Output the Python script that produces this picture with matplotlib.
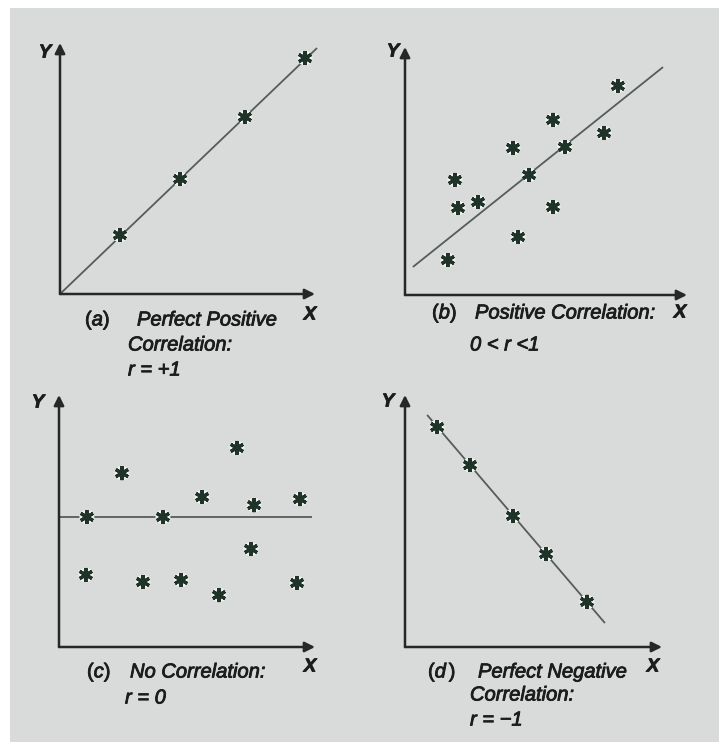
import matplotlib
matplotlib.use("Agg")
import matplotlib.pyplot as plt
import matplotlib.patheffects as pe
from matplotlib.patches import Rectangle

plt.rcParams['font.family'] = ['Liberation Sans', 'DejaVu Sans']
plt.rcParams['mathtext.fontset'] = 'custom'
plt.rcParams['mathtext.rm'] = 'Liberation Sans'
plt.rcParams['mathtext.it'] = 'Liberation Sans:italic'

# ---- data (panel units: axes run 0..10) ----
a_x = [2.35, 4.71, 7.25, 9.61]
a_y = [2.35, 4.58, 7.05, 9.40]
a_line_x = [0.0, 10.08]
a_line_y = [0.0, 9.80]

b_x = [1.52, 1.88, 1.77, 2.59, 4.01, 3.83, 4.40, 5.25, 5.25, 5.67, 7.06, 7.55]
b_y = [1.41, 3.51, 4.64, 3.75, 2.34, 5.93, 4.84, 3.55, 7.06, 5.97, 6.53, 8.43]
b_line_x = [0.28, 9.15]
b_line_y = [1.13, 9.19]

c_x = [1.09, 4.06, 2.46, 6.95, 5.59, 7.62, 9.41, 7.50, 1.05, 3.28, 4.77, 6.25, 9.30]
c_y = [5.16, 5.16, 6.90, 7.90, 5.95, 5.63, 5.87, 3.89, 2.86, 2.58, 2.66, 2.06, 2.54]
c_line_x = [0.0, 9.88]
c_line_y = [5.16, 5.16]

d_x = [1.25, 2.53, 4.20, 5.49, 7.08]
d_y = [8.73, 7.22, 5.20, 3.69, 1.79]
d_line_x = [0.86, 7.78]
d_line_y = [9.21, 0.95]

W, H = 719, 745
fig = plt.figure(figsize=(W / 100, H / 100), dpi=100)
fig.patch.set_facecolor('white')
fig.patches.append(Rectangle((10 / W, 1 - 742 / H), (W - 10) / W, (742 - 8) / H,
                             transform=fig.transFigure, facecolor='#d8dbda',
                             edgecolor='none', zorder=-5))

AX_COL = '#262827'
LINE_COL = '#565c59'
MK_COL = '#1f3329'
TXT_COL = '#1a1d1b'


def px(x, y):
    return x / W, 1 - y / H


def panel(origin, tip, xs, ys, lx, ly):
    ox, oy = origin
    tx, ty = tip
    left, bottom = px(ox, oy)
    right, top = px(tx, ty)
    ax = fig.add_axes([left, bottom, right - left, top - bottom], zorder=2)
    ax.set_xlim(0, 10)
    ax.set_ylim(0, 10)
    ax.axis('off')
    ax.patch.set_alpha(0)
    arrow = dict(arrowstyle='-|>', mutation_scale=15, lw=1.8, color=AX_COL,
                 shrinkA=0, shrinkB=0)
    ax.annotate('', xy=(10, 0), xytext=(0, 0), arrowprops=arrow, annotation_clip=False)
    ax.annotate('', xy=(0, 10), xytext=(0, 0), arrowprops=arrow, annotation_clip=False)
    ax.plot(lx, ly, color=LINE_COL, lw=1.3, clip_on=False, zorder=2,
            solid_capstyle='butt')
    ax.plot(xs, ys, linestyle='none', marker=(6, 2, 0), markersize=10,
            markeredgewidth=2.2, color=MK_COL, clip_on=False, zorder=3,
            path_effects=[pe.withStroke(linewidth=4.5, foreground='#eef0ef'),
                          pe.Normal()])
    return ax


panel((60, 294), (315, 43), a_x, a_y, a_line_x, a_line_y)
panel((405, 295), (687, 47), b_x, b_y, b_line_x, b_line_y)
panel((59, 647), (315, 395), c_x, c_y, c_line_x, c_line_y)
panel((405, 647), (662, 395), d_x, d_y, d_line_x, d_line_y)

thick = [pe.withStroke(linewidth=0.6, foreground=TXT_COL)]


def t(x, y, s, size=14.5, style='italic', ha='left', weight='normal'):
    fx, fy = px(x, y)
    fig.text(fx, fy, s, fontsize=size, style=style, ha=ha, va='center',
             color=TXT_COL, weight=weight, zorder=3, path_effects=thick)


# axis letters
for (x, y, s) in [(45, 53, 'Y'), (310, 315, 'X'), (393, 52, 'Y'), (680, 313, 'X'),
                  (38, 403, 'Y'), (310, 667, 'X'), (388, 402, 'Y'), (653, 667, 'X')]:
    t(x, y, s, size=13.5, ha='center', weight='bold')

# captions
t(85, 320, r'$\mathrm{(}a\mathrm{)}$', style='normal')
t(137, 320, 'Perfect Positive')
t(128, 345, 'Correlation:')
t(128, 370, 'r = +1')

t(432, 313, r'$\mathrm{(}b\mathrm{)}$', style='normal')
t(475, 313, 'Positive Correlation:')
t(470, 345, '0 < r <1')

t(87, 672, r'$\mathrm{(}c\mathrm{)}$', style='normal')
t(130, 672, 'No Correlation:')
t(125, 698, 'r = 0')

t(428, 672, r'$\mathrm{(}d\mathrm{\,)}$', style='normal')
t(478, 672, 'Perfect Negative')
t(470, 695, 'Correlation:')
t(470, 720, 'r = \u22121')

fig.savefig('out.png', dpi=100, facecolor=fig.get_facecolor())
